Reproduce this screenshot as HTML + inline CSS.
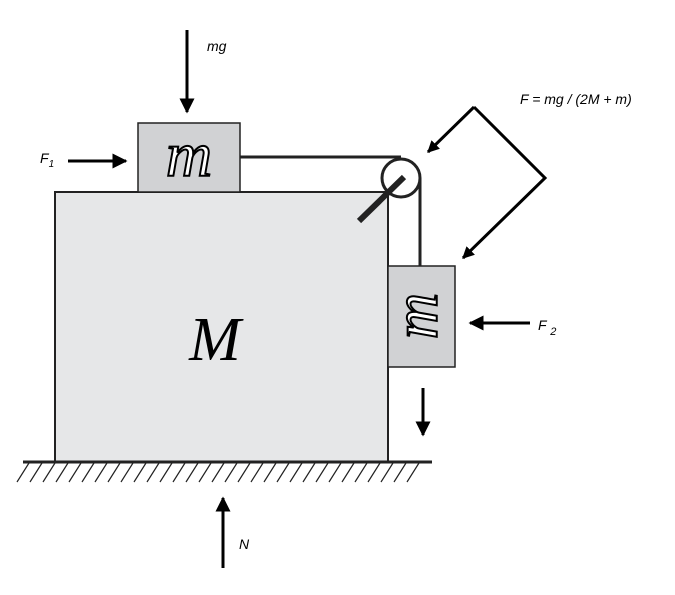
<!DOCTYPE html>
<html><head><style>body{margin:0;background:#fff}svg{display:block}</style></head>
<body>
<svg width="675" height="595" viewBox="0 0 675 595" xmlns="http://www.w3.org/2000/svg">
<defs>
<marker id="a" viewBox="0 0 10 10" refX="9" refY="5" markerWidth="5" markerHeight="5" orient="auto" markerUnits="strokeWidth"><path d="M0,0L10,5L0,10z" fill="#000"/></marker>
<marker id="b" viewBox="0 0 10 10" refX="9" refY="5" markerWidth="4" markerHeight="4" orient="auto" markerUnits="strokeWidth"><path d="M0,0L10,5L0,10z" fill="#000"/></marker>
</defs>
<rect x="55" y="192" width="333" height="270" fill="#e6e7e8" stroke="#222" stroke-width="2"/>
<rect x="138" y="123" width="102" height="69" fill="#d1d2d4" stroke="#222" stroke-width="1.5"/>
<rect x="388" y="266" width="67" height="101" fill="#d1d2d4" stroke="#222" stroke-width="1.5"/>
<path d="M240,157H401" stroke="#222" stroke-width="3" fill="none"/>
<path d="M420,178V266" stroke="#222" stroke-width="3" fill="none"/>
<circle cx="401" cy="178" r="19" fill="none" stroke="#222" stroke-width="3"/>
<line x1="359" y1="221" x2="404" y2="177" stroke="#222" stroke-width="6"/>
<line x1="23" y1="462" x2="432" y2="462" stroke="#222" stroke-width="3"/>
<g stroke="#222" stroke-width="1.2">
<path d="M17,482l12,-19M30,482l12,-19M43,482l12,-19M56,482l12,-19M69,482l12,-19M82,482l12,-19M95,482l12,-19M108,482l12,-19M121,482l12,-19M134,482l12,-19M147,482l12,-19M160,482l12,-19M173,482l12,-19M186,482l12,-19M199,482l12,-19M212,482l12,-19M225,482l12,-19M238,482l12,-19M251,482l12,-19M264,482l12,-19M277,482l12,-19M290,482l12,-19M303,482l12,-19M316,482l12,-19M329,482l12,-19M342,482l12,-19M355,482l12,-19M368,482l12,-19M381,482l12,-19M394,482l12,-19M407,482l12,-19"/>
</g>
<g stroke="#000" stroke-width="3" fill="none">
<line x1="187" y1="30" x2="187" y2="112" marker-end="url(#a)"/>
<line x1="68" y1="161" x2="126" y2="161" marker-end="url(#a)"/>
<line x1="530" y1="323" x2="470" y2="323" marker-end="url(#a)"/>
<line x1="423" y1="388" x2="423" y2="435" marker-end="url(#a)"/>
<line x1="223" y1="568" x2="223" y2="498" marker-end="url(#a)"/>
<path d="M474,107L428,152" marker-end="url(#b)"/>
<path d="M474,107L545,178L463,258" marker-end="url(#b)"/>
</g>
<g font-family="Liberation Sans, sans-serif" font-style="italic" font-size="14" fill="#000">
<text x="207" y="51">mg</text>
<text x="40" y="163">F<tspan font-size="10" dy="4">1</tspan></text>
<text x="538" y="330">F <tspan font-size="11" dy="5">2</tspan></text>
<text x="239" y="549">N</text>
<text x="520" y="104">F = mg / (2M + m)</text>
</g>
<g font-family="Liberation Serif, serif" font-style="italic" fill="#000">
<text x="189" y="176" font-size="64" text-anchor="middle" fill="#fff" stroke="#000" stroke-width="2">m</text>
<text x="215" y="360" font-size="62" text-anchor="middle">M</text>
<text x="0" y="0" font-size="64" text-anchor="middle" fill="#fff" stroke="#000" stroke-width="2" transform="translate(437,316) rotate(-90)">m</text>
</g>
</svg>
</body></html>
